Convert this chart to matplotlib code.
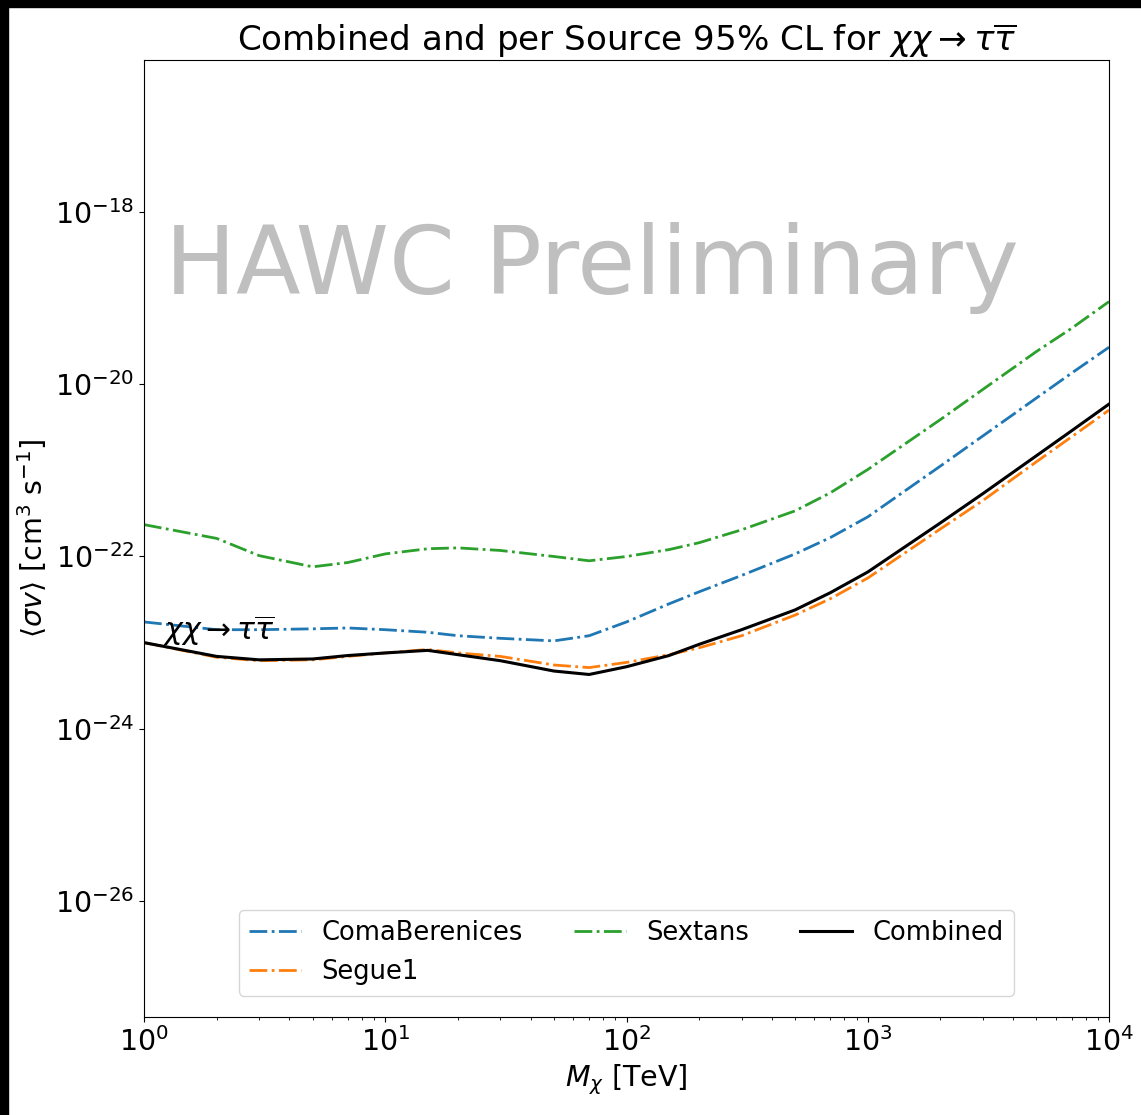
import numpy as np
import matplotlib
matplotlib.use("Agg")
import matplotlib.pyplot as plt
from matplotlib.patches import Rectangle
from matplotlib.ticker import LogLocator, NullLocator

# dark matter mass [TeV]
masses = [1, 2, 3, 5, 7, 10, 15, 20, 30, 50, 70, 100, 150, 200, 300, 500,
          700, 1000, 2000, 3000, 5000, 7000, 10000]

# log10 of <sigma v> limits
log_coma = [-22.76, -22.85, -22.85, -22.84, -22.83, -22.85, -22.88, -22.92,
            -22.95, -22.98, -22.92, -22.76, -22.55, -22.41, -22.22, -21.97,
            -21.78, -21.54, -20.95, -20.60, -20.16, -19.87, -19.57]
log_segue = [-23.00, -23.17, -23.21, -23.20, -23.16, -23.12, -23.08, -23.12,
             -23.16, -23.26, -23.29, -23.23, -23.14, -23.06, -22.92, -22.68,
             -22.49, -22.25, -21.68, -21.35, -20.90, -20.61, -20.30]
log_sextans = [-21.63, -21.79, -21.99, -22.12, -22.07, -21.97, -21.91, -21.90,
               -21.93, -22.00, -22.05, -22.00, -21.92, -21.84, -21.69, -21.47,
               -21.26, -20.99, -20.41, -20.06, -19.62, -19.35, -19.04]
log_combined = [-23.00, -23.16, -23.20, -23.19, -23.15, -23.12, -23.09, -23.14,
                -23.21, -23.33, -23.37, -23.28, -23.15, -23.02, -22.85, -22.62,
                -22.42, -22.18, -21.61, -21.27, -20.83, -20.54, -20.23]

sources = ["ComaBerenices", "Segue1", "Sextans"]
source_limits = [log_coma, log_segue, log_sextans]

plt.rcParams["font.size"] = 20.5

fig = plt.figure(figsize=(11.41, 11.15), dpi=100)
ax = fig.add_axes([0.1262, 0.0879, 0.8458, 0.8583])

for name, lim in zip(sources, source_limits):
    ax.plot(masses, 10.0 ** np.array(lim), linestyle="-.", linewidth=2, label=name)
ax.plot(masses, 10.0 ** np.array(log_combined), color="black", linewidth=2.2,
        label="Combined")

ax.set_xscale("log")
ax.set_yscale("log")
ax.set_xlim(1, 1e4)
ax.set_ylim(10 ** -27.347, 10 ** -16.235)
ax.yaxis.set_major_locator(LogLocator(base=100.0))
ax.yaxis.set_minor_locator(NullLocator())

ax.text(1.2, 10 ** -22.97, r"$\chi\chi \to \tau\overline{\tau}$", fontsize=21.5)
ax.text(0.464, 0.783, "HAWC Preliminary", transform=ax.transAxes, fontsize=68,
        color="0.75", ha="center", va="center")

ax.set_title(r"Combined and per Source 95% CL for $\chi\chi \to \tau\overline{\tau}$",
             fontsize=24.6)
ax.set_xlabel(r"$M_\chi$ [TeV]")
ax.set_ylabel(r"$\langle\sigma v\rangle$ [cm$^3$ s$^{-1}$]")
ax.legend(loc="lower center", bbox_to_anchor=(0.5, 0.009), ncol=3, fontsize=18.5)

# dark strips at the left and top edges of the screenshot
fig.patches.append(Rectangle((0, 0), 8 / 1141, 1, transform=fig.transFigure,
                             color="black", zorder=10))
fig.patches.append(Rectangle((0, 1 - 7 / 1115), 1, 7 / 1115,
                             transform=fig.transFigure, color="black", zorder=10))

fig.savefig("out.png", dpi=100)
